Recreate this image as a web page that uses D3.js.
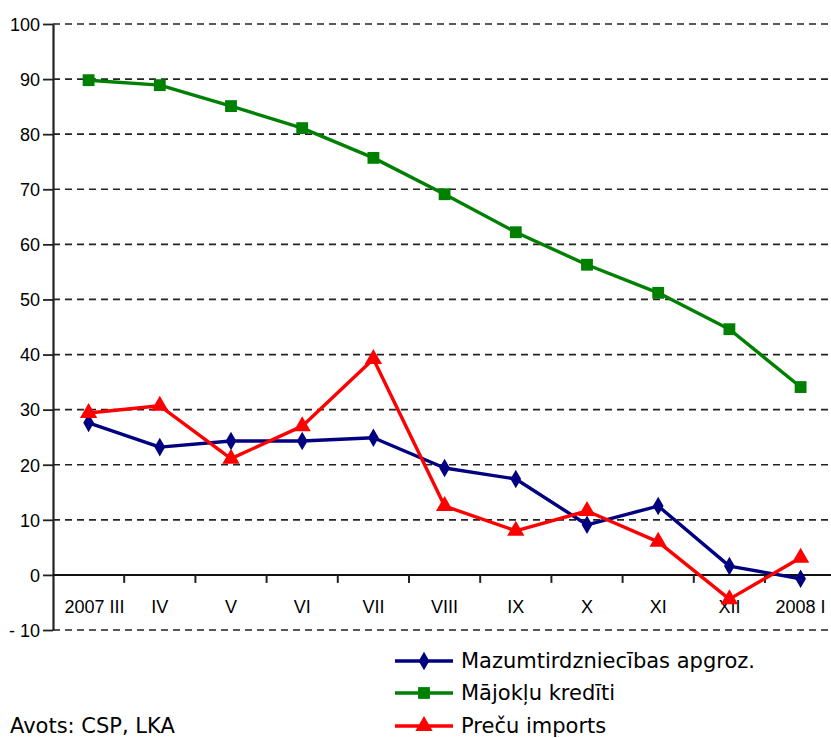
<!DOCTYPE html>
<html>
<head>
<meta charset="utf-8">
<script src="https://cdn.jsdelivr.net/npm/d3@7"></script>
<style>
  body { margin: 0; background: #fff; }
  svg { display: block; }
  .tick-label { font-family: "Liberation Sans", Arial, sans-serif; font-size: 18px; fill: #000; }
  .legend-text, .source { font-family: "DejaVu Sans", Verdana, sans-serif; font-size: 21px; fill: #000; }
</style>
</head>
<body>
<svg></svg>
<script>
let months = ["2007 III", "IV", "V", "VI", "VII", "VIII", "IX", "X", "XI", "XII", "2008 I"];
let retail = [27.6, 23.2, 24.3, 24.3, 24.9, 19.4, 17.4, 9.1, 12.5, 1.6, -0.7];
let housing = [89.8, 88.9, 85.1, 81.1, 75.7, 69.1, 62.2, 56.3, 51.2, 44.6, 34.1];
let imports = [29.4, 30.7, 21.1, 27.0, 39.2, 12.5, 8.0, 11.6, 6.0, -4.4, 3.1];
let yTicks = [-10, 0, 10, 20, 30, 40, 50, 60, 70, 80, 90, 100];
let seriesNames = ["Mazumtirdzniecības apgroz.", "Mājokļu kredīti", "Preču imports"];

let width = 831;
let height = 738;

let axisX = 53;
let bandW = 71.2;

let svg = d3.select("svg")
    .attr("width", width)
    .attr("height", height);

let xScale = d3.scaleBand()
    .domain(months)
    .range([axisX, axisX + months.length * bandW]);

let yScale = d3.scaleLinear()
    .domain([-10, 100])
    .range([630, 24]);

let series = [
    { name: seriesNames[0], values: retail, color: "#000080", marker: d3.symbolDiamond, size: 100 },
    { name: seriesNames[1], values: housing, color: "#008000", marker: d3.symbolSquare, size: 140 },
    { name: seriesNames[2], values: imports, color: "#ff0000", marker: d3.symbolTriangle, size: 130 }
];

// dashed grid
svg.append("g")
   .selectAll("line")
   .data(yTicks.filter((d) => d !== 0))
   .enter()
   .append("line")
   .attr("x1", axisX)
   .attr("x2", width)
   .attr("y1", (d) => yScale(d))
   .attr("y2", (d) => yScale(d))
   .attr("stroke", "#222")
   .attr("stroke-width", 1.7)
   .attr("stroke-dasharray", "7,5")

// y axis
let yAxis = svg.append("g")
   .attr("transform", "translate(" + axisX + ",0)")
   .call(d3.axisLeft(yScale).tickValues(yTicks).tickSize(10).tickSizeOuter(0)
        .tickFormat((d) => d < 0 ? "- " + Math.abs(d) : d))
yAxis.select(".domain").attr("stroke", "#222").attr("stroke-width", 2.2)
yAxis.selectAll(".tick line").attr("stroke", "#222").attr("stroke-width", 1.8)
yAxis.selectAll(".tick text")
   .attr("class", "tick-label")
   .attr("x", -13)
   .attr("dy", "0.35em")
yAxis.attr("font-size", null).attr("font-family", null)

// x axis on zero line
let xAxis = svg.append("g")
   .attr("transform", "translate(0," + yScale(0) + ")")

xAxis.append("line")
   .attr("x1", axisX)
   .attr("x2", width)
   .attr("stroke", "#111")
   .attr("stroke-width", 2)

xAxis.selectAll(".xtick")
   .data(months.slice(1))
   .enter()
   .append("line")
   .attr("x1", (d) => xScale(d))
   .attr("x2", (d) => xScale(d))
   .attr("y1", 0)
   .attr("y2", 8)
   .attr("stroke", "#222")
   .attr("stroke-width", 2)

svg.append("g")
   .selectAll("text")
   .data(months)
   .enter()
   .append("text")
   .attr("class", "tick-label")
   .attr("x", (d) => xScale(d) + xScale.bandwidth() / 2 + (d === "2007 III" ? 6 : 0))
   .attr("y", 613)
   .attr("text-anchor", "middle")
   .text((d) => d)

// lines and markers
let line = d3.line()
    .x((d, i) => xScale(months[i]) + xScale.bandwidth() / 2)
    .y((d) => yScale(d))

series.forEach((s) => {
    svg.append("path")
       .datum(s.values)
       .attr("fill", "none")
       .attr("stroke", s.color)
       .attr("stroke-width", 3.4)
       .attr("stroke-linejoin", "round")
       .attr("d", line)

    svg.append("g")
       .selectAll("path")
       .data(s.values)
       .enter()
       .append("path")
       .attr("d", d3.symbol().type(s.marker).size(s.size))
       .attr("fill", s.color)
       .attr("transform", (d, i) => "translate(" + (xScale(months[i]) + xScale.bandwidth() / 2) + "," + yScale(d) + ")")
})

// legend
let legend = svg.append("g")
   .selectAll("g")
   .data(series)
   .enter()
   .append("g")
   .attr("transform", (d, i) => "translate(395," + [661, 693, 726][i] + ")")

legend.append("line")
   .attr("x1", 0)
   .attr("x2", 58)
   .attr("stroke", (d) => d.color)
   .attr("stroke-width", 3.4)

legend.append("path")
   .attr("d", (d) => d3.symbol().type(d.marker).size(d.size)())
   .attr("transform", "translate(29,0)")
   .attr("fill", (d) => d.color)

legend.append("text")
   .attr("class", "legend-text")
   .attr("x", 66)
   .attr("y", 7)
   .text((d) => d.name)

svg.append("text")
   .attr("class", "source")
   .attr("x", 10)
   .attr("y", 733)
   .text("Avots: CSP, LKA")
</script>
</body>
</html>
